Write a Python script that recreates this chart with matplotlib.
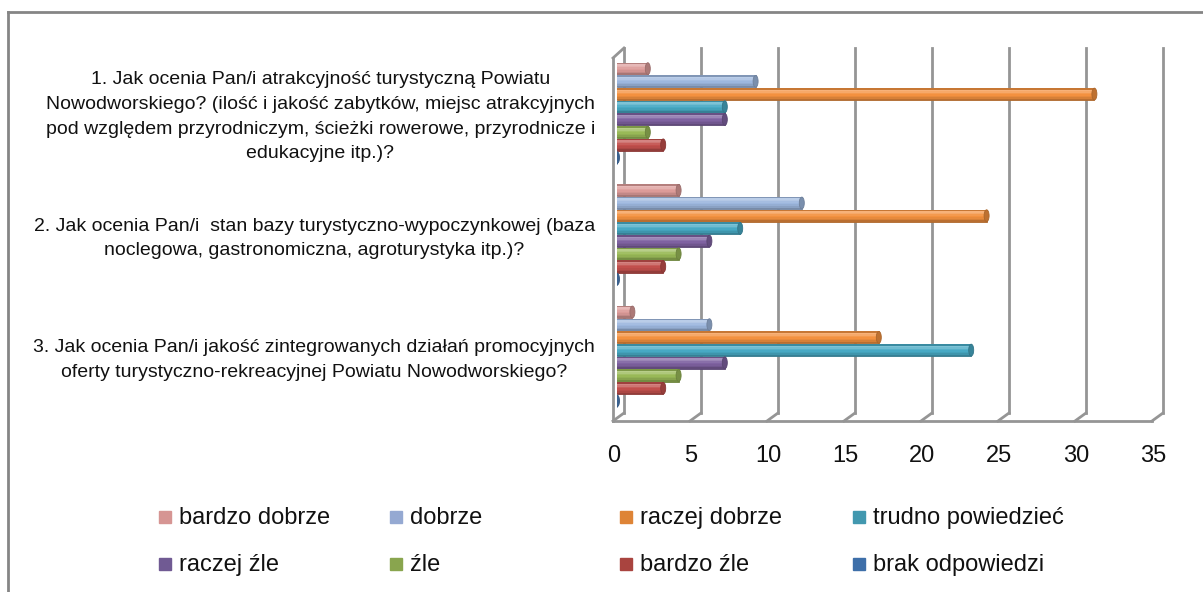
import numpy as np
import matplotlib
matplotlib.use('Agg')
import matplotlib.pyplot as plt
import matplotlib.transforms as mtransforms
from matplotlib.patches import Ellipse, Rectangle
from matplotlib.lines import Line2D
from matplotlib.colors import to_rgb

plt.rcParams['font.family'] = ['Liberation Sans', 'DejaVu Sans']

# data
questions = [
    '1. Jak ocenia Pan/i atrakcyjność turystyczną Powiatu\n'
    'Nowodworskiego? (ilość i jakość zabytków, miejsc atrakcyjnych\n'
    'pod względem przyrodniczym, ścieżki rowerowe, przyrodnicze i\n'
    'edukacyjne itp.)?',
    '2. Jak ocenia Pan/i  stan bazy turystyczno-wypoczynkowej (baza\n'
    'noclegowa, gastronomiczna, agroturystyka itp.)?',
    '3. Jak ocenia Pan/i jakość zintegrowanych działań promocyjnych\n'
    'oferty turystyczno-rekreacyjnej Powiatu Nowodworskiego?',
]
series_names = ['bardzo dobrze', 'dobrze', 'raczej dobrze', 'trudno powiedzieć',
                'raczej źle', 'źle', 'bardzo źle', 'brak odpowiedzi']
bardzo_dobrze = [2, 4, 1]
dobrze = [9, 12, 6]
raczej_dobrze = [31, 24, 17]
trudno_powiedziec = [7, 8, 23]
raczej_zle = [7, 6, 7]
zle = [2, 4, 4]
bardzo_zle = [3, 3, 3]
brak_odpowiedzi = [0, 0, 0]
series_values = [bardzo_dobrze, dobrze, raczej_dobrze, trudno_powiedziec,
                 raczej_zle, zle, bardzo_zle, brak_odpowiedzi]
xticks = [0, 5, 10, 15, 20, 25, 30, 35]

colors = ['#DC9B99', '#9DB7DE', '#F3913F', '#47A9C4', '#7F62A1', '#99B957', '#C24F4C', '#4A7DB8']
legend_colors = ['#D69593', '#95A9D2', '#DE8436', '#4298AF', '#705A93', '#89A54E', '#A9443F', '#3E6FA9']


def shade(c, f):
    r = np.array(to_rgb(c))
    if f < 1:
        return tuple(r * f)
    return tuple(r + (1 - r) * (f - 1))


W, H, DPI = 1203, 592, 100
fig = plt.figure(figsize=(W / DPI, H / DPI), dpi=DPI)

# outer frame, only top and left edges are inside the picture
frame = dict(transform=fig.transFigure, color='#858585', lw=2)
fig.add_artist(Line2D([8 / W, 8 / W], [0, 1 - 12 / H], **frame))
fig.add_artist(Line2D([8 / W, 1], [1 - 12 / H, 1 - 12 / H], **frame))

ax = fig.add_axes([617 / W, 1 - 413 / H, 539 / W, 365 / H])
ax.set_xlim(0, 35)
ax.set_ylim(2.465, -0.535)
for s in ax.spines.values():
    s.set_visible(False)
ax.set_yticks([])

ux = 539 / 35.0   # px per value unit
uy = 365.0        # px per axes unit
grid = dict(transform=ax.get_xaxis_transform(), color='#959595', lw=2, clip_on=False, zorder=1)
back = 7 / ux
front = -4 / ux
floor = -8 / uy

# back wall gridlines + floor slants
for t in xticks:
    ax.plot([t + back, t + back], [0, 1], **grid)
    ax.plot([t + back, t + front], [0, floor], **grid)
ax.plot([front, 35 + front], [floor, floor], **grid)
# left wall
ax.plot([front, front], [floor, (413 - 58) / uy], **grid)
ax.plot([front, back], [(413 - 58) / uy, 1], **grid)

# bars drawn as shaded cylinders (stripes top -> bottom)
step = 0.1044
bh = 0.099
cap_w = 5 / ux
profile = [0.82, 1.3, 1.22, 1.08, 1.0, 0.95, 0.88, 0.76]
ns = len(profile)
ypos = np.arange(len(questions))
for j, (vals, c) in enumerate(zip(series_values, colors)):
    y = ypos + (j - 3.5) * step
    dark = shade(c, 0.7)
    ax.barh(y, vals, height=bh, color=c, edgecolor=dark, lw=0.6, zorder=3)
    for k, f in enumerate(profile):
        yk = y - bh / 2 + (k + 0.5) * bh / ns
        ax.barh(yk, vals, height=bh / ns * 1.02, color=shade(c, f), lw=0, zorder=4)
    for v, yy in zip(vals, y):
        ax.add_patch(Ellipse((v, yy), width=cap_w, height=bh * 0.98,
                             facecolor=shade(c, 0.78), edgecolor=dark, lw=0.6, zorder=5))

# question labels
for i, q in enumerate(questions):
    ax.text(-22 / ux, ypos[i] + 0.03, q, ha='right', va='center', multialignment='center',
            fontsize=14, linespacing=1.6, color='#111111')

# value axis labels (front edge of the floor)
ax.set_xticks(xticks)
ax.set_xticklabels([str(t) for t in xticks])
ax.tick_params(axis='x', length=0, pad=23, labelsize=17, labelcolor='#111111')
off = mtransforms.ScaledTranslation(-3 / DPI, 0, fig.dpi_scale_trans)
for lab in ax.get_xticklabels():
    lab.set_transform(lab.get_transform() + off)

# legend, 4 equal columns by 2 rows
col_x = [159, 390, 620, 853]
row_y = [517, 564]
for k, (name, c) in enumerate(zip(series_names, legend_colors)):
    r, col = divmod(k, 4)
    x, y = col_x[col], row_y[r]
    fig.add_artist(Rectangle((x / W, 1 - (y + 6) / H), 12 / W, 12 / H,
                             transform=fig.transFigure, color=c))
    fig.text((x + 20) / W, 1 - (y + 7) / H, name, va='baseline', ha='left',
             fontsize=17, color='#111111')

fig.savefig('out.png', dpi=DPI)
